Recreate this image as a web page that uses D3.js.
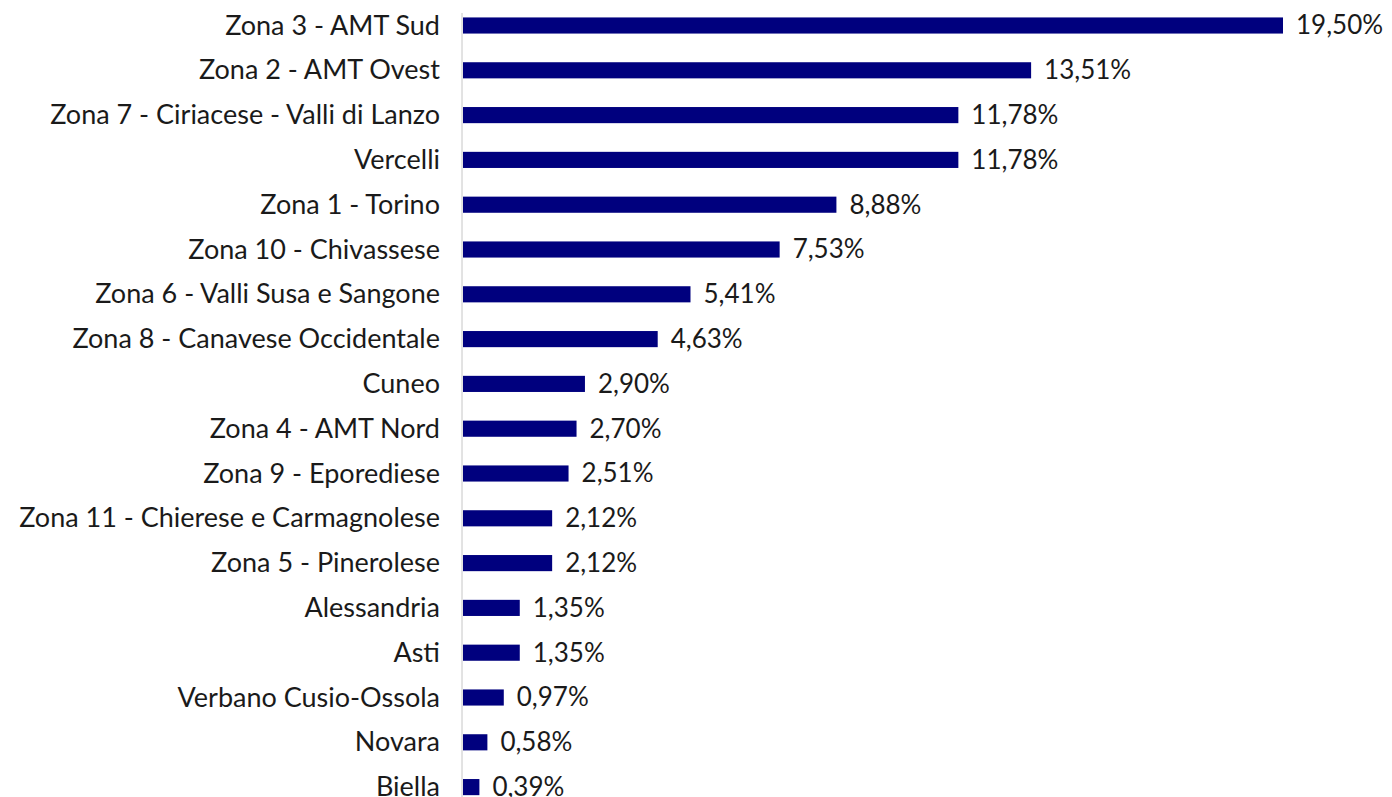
<!DOCTYPE html>
<html>
<head>
<meta charset="utf-8">
<script src="https://cdn.jsdelivr.net/npm/d3@7"></script>
<style>
  html, body { margin: 0; padding: 0; background: #ffffff; overflow: hidden; }
  svg { display: block; }
  text { font-family: Lato, "Open Sans", sans-serif; fill: #1a1a1a; }
</style>
</head>
<body>
<svg id="chart" width="1392" height="797"></svg>
<script>
// Share of cases by area (percent)
const zones = [
  "Zona 3 - AMT Sud",
  "Zona 2 - AMT Ovest",
  "Zona 7 - Ciriacese - Valli di Lanzo",
  "Vercelli",
  "Zona 1 - Torino",
  "Zona 10 - Chivassese",
  "Zona 6 - Valli Susa e Sangone",
  "Zona 8 - Canavese Occidentale",
  "Cuneo",
  "Zona 4 - AMT Nord",
  "Zona 9 - Eporediese",
  "Zona 11 - Chierese e Carmagnolese",
  "Zona 5 - Pinerolese",
  "Alessandria",
  "Asti",
  "Verbano Cusio-Ossola",
  "Novara",
  "Biella"
];
const shares = [19.50, 13.51, 11.78, 11.78, 8.88, 7.53, 5.41, 4.63, 2.90, 2.70, 2.51, 2.12, 2.12, 1.35, 1.35, 0.97, 0.58, 0.39];

const svg = d3.select("#chart");
const data = zones.map((z, i) => ({ zone: z, value: shares[i] }));

const x0 = 463;
const x = d3.scaleLinear().domain([0, 19.5]).range([x0, 1283]);
const y = d3.scaleBand().domain(zones).range([3.1, 3.1 + 18 * 44.8]).paddingInner(0.64).paddingOuter(0.32);

const fmt = v => d3.format(".2f")(v).replace(".", ",") + "%";

// vertical category axis line
svg.append("line")
  .attr("x1", x0 - 1).attr("x2", x0 - 1)
  .attr("y1", 13).attr("y2", 797)
  .attr("stroke", "#c6c6c6").attr("stroke-width", 1);

// bars
svg.selectAll("rect.bar").data(data).join("rect")
  .attr("class", "bar")
  .attr("x", x0)
  .attr("y", d => y(d.zone))
  .attr("width", d => x(d.value) - x0)
  .attr("height", y.bandwidth())
  .attr("fill", "#00007e");

// category labels
svg.selectAll("text.cat").data(data).join("text")
  .attr("class", "cat")
  .attr("x", 440)
  .attr("y", d => y(d.zone) + y.bandwidth() / 2)
  .attr("dy", "0.34em")
  .attr("text-anchor", "end")
  .style("font-size", "27px")
  .text(d => d.zone);

// value labels
svg.selectAll("text.val").data(data).join("text")
  .attr("class", "val")
  .attr("x", d => x(d.value) + 13)
  .attr("y", d => y(d.zone) + y.bandwidth() / 2)
  .attr("dy", "0.34em")
  .attr("text-anchor", "start")
  .style("font-size", "26px")
  .text(d => fmt(d.value));
</script>
</body>
</html>
